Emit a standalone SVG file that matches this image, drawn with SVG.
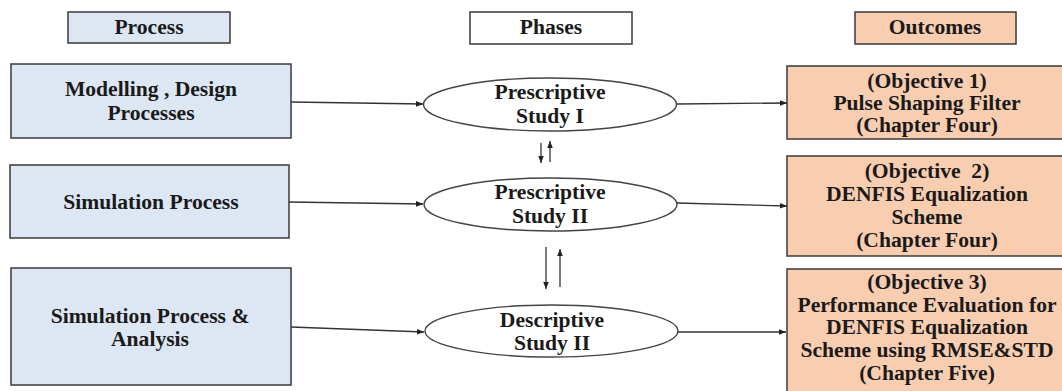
<svg xmlns="http://www.w3.org/2000/svg" width="1062" height="391" viewBox="0 0 1062 391">
  <defs>
    <marker id="arrow" viewBox="0 0 10 10" refX="10" refY="5" markerWidth="7" markerHeight="7" markerUnits="userSpaceOnUse" orient="auto">
      <path d="M0,1 L10,5 L0,9 Z" fill="#222"/>
    </marker>
  </defs>
  <style>
    text { font-family: "Liberation Serif", "Times New Roman", serif; font-weight: bold; font-size: 21.6px; fill: #1a1a1a; text-anchor: middle; }
    .proc { fill: #dde7f4; stroke: #3a3a3a; stroke-width: 1.5; }
    .out { fill: #f9cdb0; stroke: #3a3a3a; stroke-width: 1.5; }
    .plain { fill: #ffffff; stroke: #3a3a3a; stroke-width: 1.5; }
    .phase { fill: #ffffff; stroke: #444; stroke-width: 1.4; }
    .link { fill: none; stroke: #333; stroke-width: 1.3; marker-end: url(#arrow); }
  </style>

  <rect width="1062" height="391" fill="#ffffff"/>

  <!-- column headers -->
  <g id="header-process">
    <rect class="proc" x="68" y="12" width="162" height="31"/>
    <text x="149" y="34">Process</text>
  </g>
  <g id="header-phases">
    <rect class="plain" x="470" y="12" width="162" height="32"/>
    <text x="551" y="34">Phases</text>
  </g>
  <g id="header-outcomes">
    <rect class="out" x="855" y="12" width="161" height="32"/>
    <text x="935" y="34">Outcomes</text>
  </g>

  <!-- process boxes -->
  <g id="process-1">
    <rect class="proc" x="11" y="64" width="280" height="74"/>
    <text x="151" y="96">Modelling , Design</text>
    <text x="151" y="120">Processes</text>
  </g>
  <g id="process-2">
    <rect class="proc" x="10" y="165" width="279" height="73"/>
    <text x="151" y="209">Simulation Process</text>
  </g>
  <g id="process-3">
    <rect class="proc" x="11" y="268" width="280" height="117"/>
    <text x="150" y="323">Simulation Process &amp;</text>
    <text x="150" y="346">Analysis</text>
  </g>

  <!-- phase ellipses -->
  <g id="phase-1">
    <ellipse class="phase" cx="550" cy="104.5" rx="126.5" ry="26.5"/>
    <text x="550" y="99">Prescriptive</text>
    <text x="550" y="123">Study I</text>
  </g>
  <g id="phase-2">
    <ellipse class="phase" cx="550.5" cy="204.5" rx="126.5" ry="26.5"/>
    <text x="550" y="199">Prescriptive</text>
    <text x="550" y="223">Study II</text>
  </g>
  <g id="phase-3">
    <ellipse class="phase" cx="551.5" cy="331" rx="126.5" ry="26"/>
    <text x="552" y="327">Descriptive</text>
    <text x="552" y="350">Study II</text>
  </g>

  <!-- outcome boxes -->
  <g id="outcome-1">
    <rect class="out" x="787" y="66" width="290" height="73"/>
    <text x="927" y="88">(Objective 1)</text>
    <text x="927" y="110">Pulse Shaping Filter</text>
    <text x="927" y="132">(Chapter Four)</text>
  </g>
  <g id="outcome-2">
    <rect class="out" x="787" y="156" width="290" height="100"/>
    <text x="927" y="178" xml:space="preserve">(Objective  2)</text>
    <text x="927" y="201">DENFIS Equalization</text>
    <text x="927" y="224">Scheme</text>
    <text x="927" y="247">(Chapter Four)</text>
  </g>
  <g id="outcome-3">
    <rect class="out" x="787" y="269" width="290" height="130"/>
    <text x="927" y="289">(Objective 3)</text>
    <text x="927" y="312">Performance Evaluation for</text>
    <text x="927" y="334">DENFIS Equalization</text>
    <text x="927" y="357">Scheme using RMSE&amp;STD</text>
    <text x="927" y="380">(Chapter Five)</text>
  </g>

  <!-- connectors -->
  <g id="connectors">
    <line class="link" x1="291" y1="102" x2="423" y2="104"/>
    <line class="link" x1="289" y1="202" x2="423" y2="204"/>
    <line class="link" x1="291" y1="327" x2="424" y2="332"/>
    <line class="link" x1="677" y1="104" x2="787" y2="103"/>
    <line class="link" x1="677" y1="203" x2="787" y2="206"/>
    <line class="link" x1="678" y1="332" x2="786" y2="332"/>
    <line class="link" x1="541" y1="143" x2="541" y2="163"/>
    <line class="link" x1="550" y1="162" x2="550" y2="141"/>
    <line class="link" x1="546" y1="247" x2="546" y2="289"/>
    <line class="link" x1="560" y1="287" x2="560" y2="249"/>
  </g>
</svg>
